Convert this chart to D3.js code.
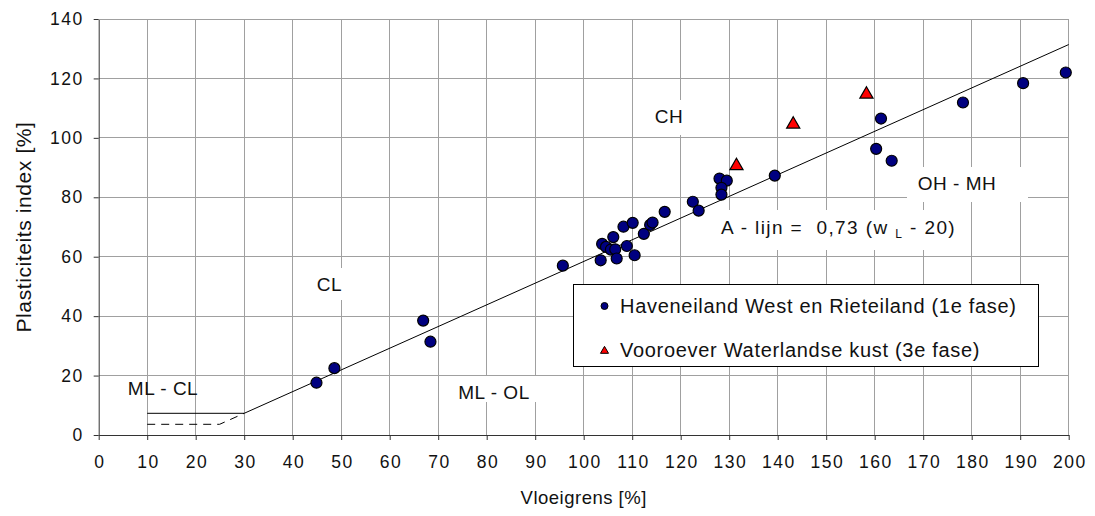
<!DOCTYPE html>
<html>
<head>
<meta charset="utf-8">
<script src="https://cdn.jsdelivr.net/npm/d3@7/dist/d3.min.js"></script>
<style>
  html, body { margin: 0; padding: 0; background: #fff; }
  svg { display: block; font-family: "Liberation Sans", Arial, sans-serif; }
</style>
</head>
<body>
<svg id="chart" width="1095" height="516"></svg>
<script>
// Liquid limit (Vloeigrens) and plasticity index per sample
const haveneilandWL = [44.9, 48.6, 66.9, 68.4, 95.7, 103.5, 103.8, 104.6, 105.6, 106.5, 106.8, 106.1,
  108.9, 110.5, 108.2, 110.1, 112.4, 113.7, 114.2, 116.7, 122.5, 123.7, 128.0, 129.5, 128.4, 128.4,
  139.4, 161.3, 160.3, 163.5, 178.2, 190.6, 199.4];
const haveneilandPI = [17.6, 22.5, 38.5, 31.4, 57.0, 58.8, 64.3, 63.3, 62.4, 62.5, 59.4, 66.6,
  63.6, 60.5, 70.1, 71.4, 67.7, 70.7, 71.5, 75.1, 78.5, 75.5, 86.3, 85.6, 83.2, 80.9,
  87.3, 106.5, 96.3, 92.3, 111.9, 118.4, 122.0];
const vooroeverWL = [131.5, 143.2, 158.3];
const vooroeverPI = [90.9, 104.9, 115.0];

const seriesNames = ["Haveneiland West en Rieteiland (1e fase)", "Vooroever Waterlandse kust (3e fase)"];
const xTicks = d3.range(0, 201, 10);
const yTicks = d3.range(0, 141, 20);

// A-line: PI = 0.73 (wL - 20)
const aSlope = 0.73, aOffset = 20;
const aLine = wl => aSlope * (wl - aOffset);
const mlClUpper = aLine(30);   // solid boundary of the ML-CL zone
const mlClLower = 3.6;         // dashed boundary of the ML-CL zone

const svg = d3.select("#chart");
const x = d3.scaleLinear().domain([0, 200]).range([98.7, 1068.7]);
const y = d3.scaleLinear().domain([0, 140]).range([435, 19]);

const gridColor = "#a0a0a0";
const textColor = "#111";

// grid
const grid = svg.append("g");
grid.selectAll("line.v").data(xTicks.slice(1)).join("line")
  .attr("x1", d => x(d)).attr("x2", d => x(d))
  .attr("y1", y(0)).attr("y2", y(140))
  .attr("stroke", gridColor).attr("stroke-width", 1).attr("shape-rendering", "crispEdges");
grid.selectAll("line.h").data(yTicks.slice(1)).join("line")
  .attr("x1", x(0)).attr("x2", x(200))
  .attr("y1", d => y(d)).attr("y2", d => y(d))
  .attr("stroke", gridColor).attr("stroke-width", 1).attr("shape-rendering", "crispEdges");

// zone labels with white backgrounds
const zoneLabels = [
  { text: "CH", cx: 669, cy: 116, box: [645, 100, 700, 135] },
  { text: "CL", cx: 329.5, cy: 284, box: [300, 268, 360, 300] },
  { text: "ML - OL", cx: 494, cy: 392, box: [451, 376, 568, 402] },
  { text: "OH - MH", cx: 957, cy: 183, box: [907, 167, 1028, 202] },
  { text: "ML - CL", cx: 163, cy: 388, box: null }
];
zoneLabels.forEach(l => {
  if (l.box) {
    svg.append("rect").attr("x", l.box[0]).attr("y", l.box[1])
      .attr("width", l.box[2] - l.box[0]).attr("height", l.box[3] - l.box[1])
      .attr("fill", "#fff");
  }
});

// A-line label box
svg.append("rect").attr("x", 712).attr("y", 210).attr("width", 253).attr("height", 40).attr("fill", "#fff");

// axes
const xAxis = d3.axisBottom(x).tickValues(xTicks).tickSize(5).tickSizeOuter(0);
const yAxis = d3.axisLeft(y).tickValues(yTicks).tickSize(5).tickSizeOuter(0);
const gx = svg.append("g").attr("transform", `translate(0,${y(0)})`).call(xAxis);
const gy = svg.append("g").attr("transform", `translate(${x(0)},0)`).call(yAxis);
[gx, gy].forEach(g => {
  g.select(".domain").attr("stroke", "#333");
  g.selectAll(".tick line").attr("stroke", "#333");
  g.selectAll(".tick text").attr("fill", textColor)
    .style("font-family", "'Liberation Sans', Arial, sans-serif")
    .style("font-size", "17.5px").style("letter-spacing", "1.5px");
});
gx.selectAll(".tick text").attr("y", 33).attr("dy", 0).attr("dx", "0.75px");
gy.selectAll(".tick text").attr("x", -15).attr("dy", "0.32em");

// plot border top/right
svg.append("line").attr("x1", x(0)).attr("x2", x(200)).attr("y1", y(140)).attr("y2", y(140))
  .attr("stroke", gridColor).attr("shape-rendering", "crispEdges");
svg.append("line").attr("x1", x(200)).attr("x2", x(200)).attr("y1", y(0)).attr("y2", y(140))
  .attr("stroke", gridColor).attr("shape-rendering", "crispEdges");

// zone label texts
zoneLabels.forEach(l => {
  svg.append("text").attr("x", l.cx).attr("y", l.cy).attr("dy", "0.36em")
    .attr("text-anchor", "middle").attr("fill", textColor)
    .style("font-size", "19px").style("letter-spacing", "0.5px").text(l.text);
});

// A-line label with subscript
const aLbl = svg.append("text").attr("x", 721).attr("y", 234).attr("fill", textColor)
  .style("font-size", "19px").style("letter-spacing", "1.4px").style("white-space", "pre");
aLbl.append("tspan").text("A - lijn =  0,73 (w ");
aLbl.append("tspan").attr("dy", 4).style("font-size", "12px").text("L");
aLbl.append("tspan").attr("dy", -4).text(" - 20)");

// boundary lines
const lineGen = d3.line().x(d => x(d[0])).y(d => y(d[1]));
svg.append("path")
  .datum([[10, mlClUpper], [30, mlClUpper], [200, aLine(200)]])
  .attr("d", lineGen).attr("fill", "none").attr("stroke", "#000").attr("stroke-width", 1);
svg.append("path")
  .datum([[10, mlClLower], [aOffset + mlClLower / aSlope, mlClLower], [30, mlClUpper]])
  .attr("d", lineGen).attr("fill", "none").attr("stroke", "#000").attr("stroke-width", 1)
  .attr("stroke-dasharray", "8,6");

// data points
const circles = haveneilandWL.map((wl, i) => [wl, haveneilandPI[i]]);
svg.append("g").selectAll("circle").data(circles).join("circle")
  .attr("cx", d => x(d[0])).attr("cy", d => y(d[1])).attr("r", 5.5)
  .attr("fill", "#000080").attr("stroke", "#000").attr("stroke-width", 1.2);

const triangles = vooroeverWL.map((wl, i) => [wl, vooroeverPI[i]]);
const triSym = d3.symbol().type(d3.symbolTriangle).size(75);
svg.append("g").selectAll("path").data(triangles).join("path")
  .attr("transform", d => `translate(${x(d[0])},${y(d[1]) + 1})`)
  .attr("d", triSym).attr("fill", "#ff0000").attr("stroke", "#000").attr("stroke-width", 1.2);

// legend
const legend = svg.append("g");
legend.append("rect").attr("x", 573.5).attr("y", 284.5).attr("width", 465).attr("height", 82)
  .attr("fill", "#fff").attr("stroke", "#000").attr("stroke-width", 1);
legend.append("circle").attr("cx", 604.5).attr("cy", 306).attr("r", 3.5)
  .attr("fill", "#000080").attr("stroke", "#000").attr("stroke-width", 1);
legend.append("path").attr("transform", "translate(604.5,351)")
  .attr("d", d3.symbol().type(d3.symbolTriangle).size(28))
  .attr("fill", "#ff0000").attr("stroke", "#000").attr("stroke-width", 1);
[306, 350].forEach((cy, i) => {
  legend.append("text").attr("x", 620).attr("y", cy).attr("dy", "0.36em").attr("fill", textColor)
    .style("font-size", "20px").style("letter-spacing", "0.7px").text(seriesNames[i]);
});

// axis titles
svg.append("text").attr("x", x(100)).attr("y", 497).attr("dy", "0.36em")
  .attr("text-anchor", "middle").attr("fill", textColor)
  .style("font-size", "18.5px").style("letter-spacing", "0.5px").text("Vloeigrens [%]");
svg.append("text").attr("transform", `translate(23,${y(70)}) rotate(-90)`).attr("dy", "0.36em")
  .attr("text-anchor", "middle").attr("fill", textColor)
  .style("font-size", "21px").style("letter-spacing", "0.6px").text("Plasticiteits index [%]");
</script>
</body>
</html>
